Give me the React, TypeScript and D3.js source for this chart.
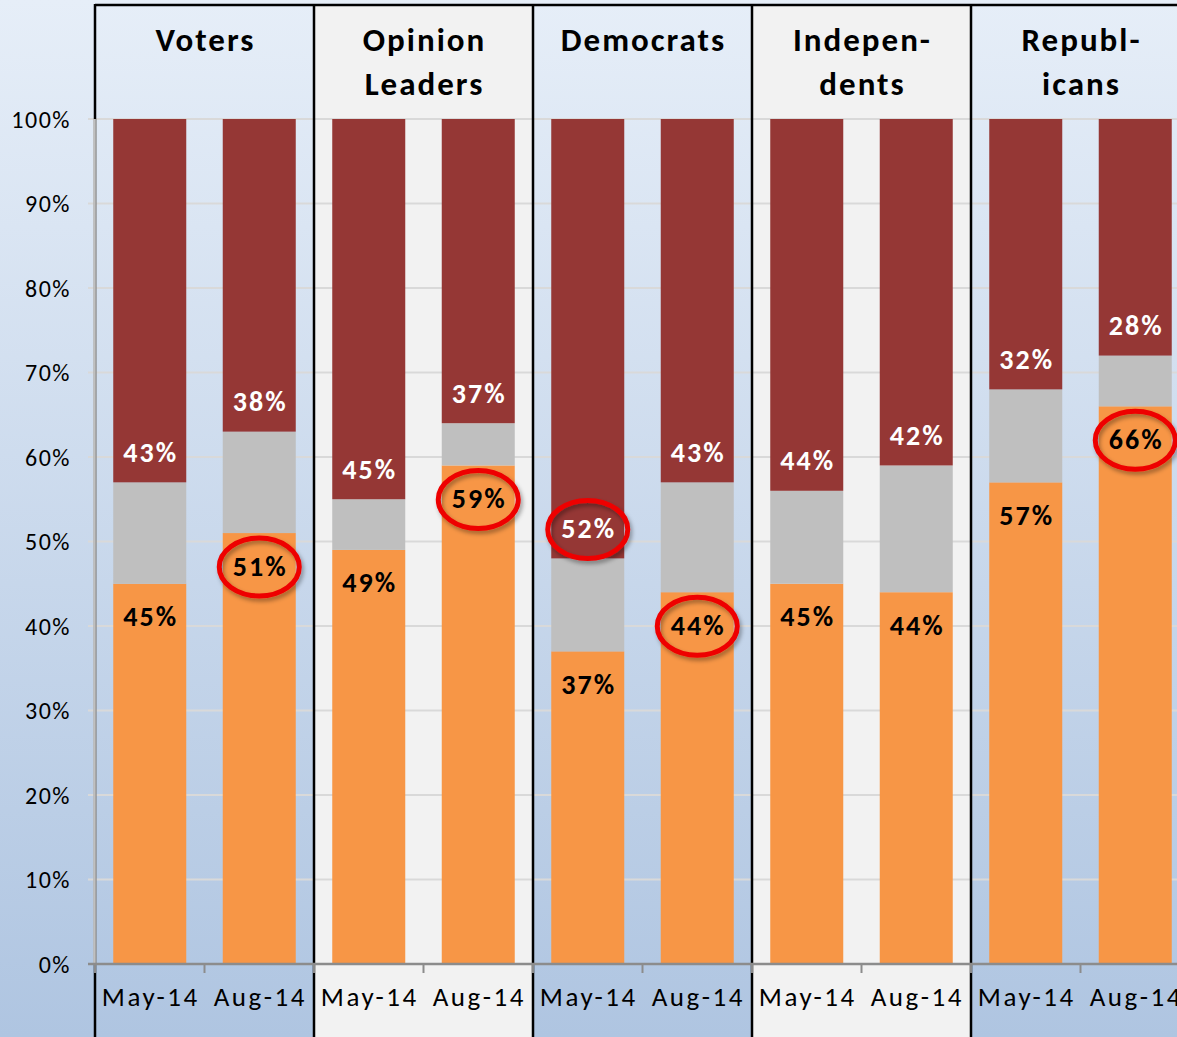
import React from "react";
import * as d3 from "d3";

const headerLines: string[][] = [
  ["Voters"],
  ["Opinion", "Leaders"],
  ["Democrats"],
  ["Indepen-", "dents"],
  ["Republ-", "icans"],
];
const periods = ["May-14", "Aug-14"];
const favorable = [45, 51, 49, 59, 37, 44, 45, 44, 57, 66];
const neutral = [12, 12, 6, 5, 11, 13, 11, 15, 11, 6];
const unfavorableLabels = [43, 38, 45, 37, 52, 43, 44, 42, 32, 28];
const circled: { bar: number; series: "fav" | "unfav" }[] = [
  { bar: 1, series: "fav" },
  { bar: 3, series: "fav" },
  { bar: 4, series: "unfav" },
  { bar: 5, series: "fav" },
  { bar: 9, series: "fav" },
];
const yTicks = [0, 10, 20, 30, 40, 50, 60, 70, 80, 90, 100];
const shadedPanels = [1, 3];

const W = 1177;
const H = 1037;
const FONT = "Carlito, Lato, 'Open Sans', sans-serif";

export default function App() {
  const bars = favorable.map((_, i) => i);
  const panelW = 219;
  const left = 95;
  const x = d3
    .scaleBand<number>()
    .domain(bars)
    .range([left, left + panelW * 5])
    .paddingInner(1 / 3)
    .paddingOuter(1 / 6);
  const y = d3.scaleLinear().domain([0, 100]).range([964, 119]);
  const step = x.step();
  const bw = x.bandwidth();
  const panelX = (p: number) => left + p * panelW;
  const orange = "#f79646";
  const gray = "#bfbfbf";
  const red = "#953735";

  return (
    <svg
      width={W}
      height={H}
      style={{ position: "absolute", left: 0, top: 0, display: "block" }}
      fontFamily={FONT}
    >
      <defs>
        <linearGradient id="bg" x1="0" y1="0" x2="0" y2="1">
          <stop offset="0" stopColor="#e6eef8" />
          <stop offset="1" stopColor="#afc5e1" />
        </linearGradient>
        <filter id="sh" x="-30%" y="-30%" width="160%" height="160%">
          <feDropShadow dx="2" dy="3" stdDeviation="2" floodColor="#000" floodOpacity="0.35" />
        </filter>
      </defs>
      <rect x={0} y={0} width={W} height={H} fill="url(#bg)" />
      {shadedPanels.map((p) => (
        <rect key={p} x={panelX(p)} y={5} width={panelW} height={H} fill="#f2f2f2" />
      ))}
      {/* gridlines */}
      {yTicks.map((t) => (
        <line key={t} x1={88} x2={W} y1={y(t)} y2={y(t)} stroke="#d9d9d9" strokeWidth={2} />
      ))}
      {/* panel borders */}
      <line x1={left} x2={W} y1={5} y2={5} stroke="#000" strokeWidth={2.5} />
      {[0, 1, 2, 3, 4].map((p) => (
        <line key={p} x1={panelX(p)} x2={panelX(p)} y1={4} y2={H} stroke="#000" strokeWidth={2.5} />
      ))}
      {/* headers */}
      {headerLines.map((lines, p) =>
        lines.map((s, k) => (
          <text
            key={p + "-" + k}
            x={panelX(p) + panelW / 2 + 1}
            y={40 + k * 44}
            textAnchor="middle"
            dominantBaseline="central"
            fontWeight="bold"
            fontSize={33}
            letterSpacing={2}
            fill="#000"
          >
            {s}
          </text>
        ))
      )}
      {/* y axis */}
      <line x1={left} x2={left} y1={y(100)} y2={y(0)} stroke="#a6a6a6" strokeWidth={3} />
      <line x1={left - 1} x2={left - 1} y1={y(100)} y2={y(0)} stroke="#d9d9d9" strokeWidth={1} />
      {yTicks.map((t) => (
        <text
          key={t}
          x={71}
          y={y(t)}
          textAnchor="end"
          dominantBaseline="central"
          fontSize={24}
          letterSpacing={1.5}
          fill="#000"
        >
          {t}%
        </text>
      ))}
      {/* bars */}
      {bars.map((i) => {
        const x0 = x(i)!;
        const f = favorable[i];
        const n = neutral[i];
        return (
          <g key={i}>
            <rect x={x0} width={bw} y={y(f)} height={y(0) - y(f)} fill={orange} />
            <rect x={x0} width={bw} y={y(f + n)} height={y(f) - y(f + n)} fill={gray} />
            <rect x={x0} width={bw} y={y(100)} height={y(f + n) - y(100)} fill={red} />
          </g>
        );
      })}
      {/* x axis */}
      <line x1={88} x2={W} y1={y(0)} y2={y(0)} stroke="#8c8c8c" strokeWidth={2.5} />
      {d3.range(0, 11).map((k) => (
        <line
          key={k}
          x1={left + k * step}
          x2={left + k * step}
          y1={y(0)}
          y2={y(0) + 9}
          stroke="#8c8c8c"
          strokeWidth={2}
        />
      ))}
      {bars.map((i) => (
        <text
          key={i}
          x={x(i)! + bw / 2 + 1}
          y={996}
          textAnchor="middle"
          dominantBaseline="central"
          fontSize={27}
          letterSpacing={2.5}
          fill="#000"
        >
          {periods[i % 2]}
        </text>
      ))}
      {/* data labels */}
      {bars.map((i) => {
        const cx = x(i)! + bw / 2 + 1;
        const f = favorable[i];
        const n = neutral[i];
        return (
          <g key={i} fontWeight="bold" fontSize={28} letterSpacing={2}>
            <text x={cx} y={y(f) + 33} textAnchor="middle" dominantBaseline="central" fill="#000">
              {f}%
            </text>
            <text x={cx} y={y(f + n) - 30} textAnchor="middle" dominantBaseline="central" fill="#fff">
              {unfavorableLabels[i]}%
            </text>
          </g>
        );
      })}
      {/* circles */}
      {circled.map((c) => {
        const cx = x(c.bar)! + bw / 2;
        const f = favorable[c.bar];
        const n = neutral[c.bar];
        const cy = c.series === "fav" ? y(f) + 34 : y(f + n) - 29;
        return (
          <ellipse
            key={c.bar}
            cx={cx}
            cy={cy}
            rx={40}
            ry={29}
            fill="none"
            stroke="#ee0000"
            strokeWidth={5}
            filter="url(#sh)"
          />
        );
      })}
    </svg>
  );
}
